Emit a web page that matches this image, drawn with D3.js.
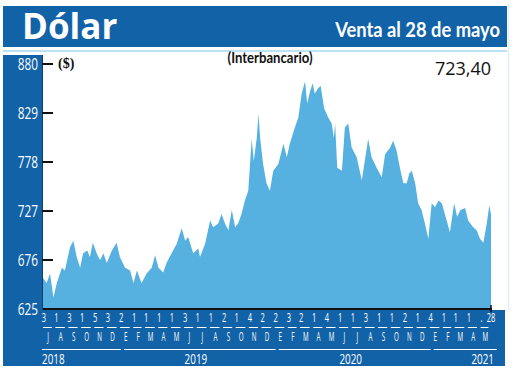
<!DOCTYPE html>
<html>
<head>
<meta charset="utf-8">
<script src="https://cdn.jsdelivr.net/npm/d3@7"></script>
<style>
  body { margin: 0; background: #fff; }
  svg { display: block; }
</style>
</head>
<body>
<div id="chart"></div>
<script>
// Datos dolar interbancario (venta)
var fechas = [
  "2018-07-03","2018-07-06","2018-07-14","2018-07-22","2018-07-30","2018-08-07","2018-08-19","2018-08-26",
  "2018-09-07","2018-09-15","2018-09-23","2018-10-01","2018-10-08","2018-10-18","2018-10-24","2018-10-31",
  "2018-11-09","2018-11-17","2018-11-25","2018-12-03","2018-12-15","2018-12-26","2019-01-03","2019-01-15",
  "2019-01-27","2019-02-04","2019-02-12","2019-02-23","2019-03-07","2019-03-19","2019-03-27","2019-04-04",
  "2019-04-15","2019-04-23","2019-05-05","2019-05-17","2019-05-29","2019-06-06","2019-06-13","2019-06-25",
  "2019-07-07","2019-07-11","2019-07-23","2019-08-04","2019-08-11","2019-08-23","2019-08-31","2019-09-08",
  "2019-09-16","2019-09-24","2019-10-02","2019-10-09","2019-10-17","2019-10-25","2019-11-02","2019-11-10",
  "2019-11-15","2019-11-22","2019-11-26","2019-11-30","2019-12-07","2019-12-15","2019-12-23","2019-12-31",
  "2020-01-12","2020-01-24","2020-02-01","2020-02-08","2020-02-20","2020-02-28","2020-03-07","2020-03-15",
  "2020-03-20","2020-03-27","2020-04-02","2020-04-07","2020-04-15","2020-04-21","2020-04-29","2020-05-09",
  "2020-05-17","2020-05-22","2020-05-25","2020-05-30","2020-06-10","2020-06-17","2020-06-25","2020-07-03",
  "2020-07-15","2020-07-27","2020-08-03","2020-08-11","2020-08-19","2020-08-31","2020-09-12","2020-09-20",
  "2020-10-02","2020-10-09","2020-10-17","2020-10-25","2020-11-02","2020-11-10","2020-11-16","2020-11-22",
  "2020-11-30","2020-12-07","2020-12-15","2020-12-23","2020-12-31","2021-01-08","2021-01-16","2021-01-24",
  "2021-02-01","2021-02-08","2021-02-20","2021-03-02","2021-03-09","2021-03-17","2021-03-28","2021-04-04",
  "2021-04-16","2021-04-24","2021-05-02","2021-05-10","2021-05-18","2021-05-24","2021-05-28"
];
var valores = [
  655,657,652,662,637,652,668,665,
  689,696,679,668,683,686,679,694,
  683,676,683,673,686,694,679,668,
  665,652,665,652,662,668,681,668,
  663,673,683,693,709,696,700,683,
  688,679,693,717,710,714,724,714,
  707,728,710,714,724,738,748,802,
  779,803,828,803,776,756,748,769,
  776,797,783,797,814,824,849,862,
  839,852,860,849,855,857,834,824,
  818,803,818,772,769,814,818,793,
  783,759,779,802,783,772,762,786,
  793,800,790,772,756,756,766,769,
  756,735,728,714,698,735,731,738,
  735,724,705,735,721,728,730,717,
  710,707,698,694,714,733,723.4
];

var ticksY = [625, 676, 727, 778, 829, 880];
// dia del primer dato de cada mes (jul 2018 - may 2021)
var diasMes = ["3","1","3","1","5","3",
               "2","1","1","1","1","3","1","1","2","1","4","2",
               "2","3","2","1","4","1","1","3","1","1","2","1",
               "4","1","1","1","."];
var letrasMes = ["J","A","S","O","N","D",
                 "E","F","M","A","M","J","J","A","S","O","N","D",
                 "E","F","M","A","M","J","J","A","S","O","N","D",
                 "E","F","M","A","M"];
var anios = ["2018","2019","2020","2021"];
var diaFinal = "28";
var ultimoValor = "723,40";

var parse = d3.timeParse("%Y-%m-%d");
var data = fechas.map((f, i) => ({fecha: parse(f), valor: valores[i]}));

var width = 520, height = 371;
var azul = "#1262a8";
var celeste = "#56b1e1";
var letra = "'Open Sans', 'DejaVu Sans', sans-serif";

var svg = d3.select("#chart")
            .append("svg")
            .attr("width", width)
            .attr("height", height);

// texto comprimido horizontalmente (simula tipografia condensada)
function texto(g, x, y, str, size, anchor, sx, color, weight, family) {
    return g.append("text")
            .attr("transform", `translate(${x},${y}) scale(${sx},1)`)
            .attr("text-anchor", anchor)
            .attr("font-family", family || letra)
            .attr("font-size", size)
            .attr("font-weight", weight || 400)
            .attr("fill", color)
            .text(str);
}

// texto escalado para ocupar un ancho dado
function textoAncho(g, x, y, str, size, anchor, ancho, color, weight, family) {
    var t = texto(g, x, y, str, size, anchor, 1, color, weight, family);
    var sx = ancho / t.node().getComputedTextLength();
    t.attr("transform", `translate(${x},${y}) scale(${sx},1)`);
    return t;
}

//Escalas
var x = d3.scaleTime()
          .domain(d3.extent(data, d => d.fecha))
          .range([42, 491]);
var y = d3.scaleLinear()
          .domain([625, 880])
          .range([309, 64]);

//Marco celeste
svg.append("line")
   .attr("x1", 3).attr("x2", 507)
   .attr("y1", 51).attr("y2", 51)
   .attr("stroke", "#a8d8f2").attr("stroke-width", 1.5);
svg.append("line")
   .attr("x1", 508.5).attr("x2", 508.5)
   .attr("y1", 4).attr("y2", 310)
   .attr("stroke", "#e4eef4").attr("stroke-width", 1.5);

//Cabecera
svg.append("rect")
   .attr("x", 3).attr("y", 6)
   .attr("width", 504).attr("height", 41)
   .attr("fill", azul);
svg.append("text")
   .attr("x", 22).attr("y", 39)
   .attr("font-family", letra)
   .attr("font-weight", 700)
   .attr("font-size", 35)
   .attr("fill", "#fff")
   .text("Dólar");
textoAncho(svg, 500, 37, "Venta al 28 de mayo", 21, "end", 165, "#fff", 700, "Lato, sans-serif");

//Columna izquierda y banda inferior
svg.append("rect")
   .attr("x", 3).attr("y", 55)
   .attr("width", 39).attr("height", 311)
   .attr("fill", azul);
svg.append("rect")
   .attr("x", 3).attr("y", 310)
   .attr("width", 502).attr("height", 56)
   .attr("fill", azul);

//Area
var area = d3.area()
             .x(d => x(d.fecha))
             .y0(y(625))
             .y1(d => y(d.valor));
svg.append("path")
   .datum(data)
   .attr("d", area)
   .attr("fill", celeste);

//Ejes
svg.append("line")
   .attr("x1", 42).attr("x2", 492)
   .attr("y1", 309).attr("y2", 309)
   .attr("stroke", "#111").attr("stroke-width", 2);
svg.append("line")
   .attr("x1", 491).attr("x2", 491)
   .attr("y1", 305).attr("y2", 312)
   .attr("stroke", "#111").attr("stroke-width", 1.5);
svg.append("line")
   .attr("x1", 42.5).attr("x2", 42.5)
   .attr("y1", 55).attr("y2", 310)
   .attr("stroke", "#0b3f6e").attr("stroke-width", 1);

var gy = svg.append("g");
gy.selectAll("line")
  .data(ticksY.filter(d => d > 625))
  .enter()
  .append("line")
  .attr("x1", 42).attr("x2", 53)
  .attr("y1", d => y(d)).attr("y2", d => y(d))
  .attr("stroke", "#111").attr("stroke-width", 2);
ticksY.forEach(d => texto(gy, 38, y(d) + 5.5, d, 16, "end", 0.74, "#fff"));

//Eje X: dias, meses y anios
var inicio = x.domain()[0], fin = x.domain()[1];
var meses = d3.timeMonth.range(d3.timeMonth.floor(inicio), fin);
var gx = svg.append("g");
meses.forEach((m, i) => {
    var x0 = Math.max(x(m), 42);
    var x1 = Math.min(x(d3.timeMonth.offset(m, 1)), 491);
    texto(gx, x0 + 2, 322, diasMes[i], 12.5, "middle", 0.6, "#fff");
    gx.append("line")
      .attr("x1", x0 + 1).attr("x2", x1 - 2.5)
      .attr("y1", 327.5).attr("y2", 327.5)
      .attr("stroke", "#fff").attr("stroke-width", 1);
    texto(gx, (x0 + x1) / 2, 341, letrasMes[i], 12.5, "middle", 0.5, "#fff");
});
texto(gx, x(fin), 322, diaFinal, 12.5, "middle", 0.6, "#fff");

anios.forEach((a, i) => {
    var ini = new Date(+a, 0, 1), sig = new Date(+a + 1, 0, 1);
    var x0 = i == 0 ? 42 : x(ini) + 5;
    var x1 = i == anios.length - 1 ? 497 : x(sig) + 2;
    gx.append("line")
      .attr("x1", x0).attr("x2", x1)
      .attr("y1", 349.5).attr("y2", 349.5)
      .attr("stroke", "#fff").attr("stroke-width", 1);
    var anchor = i == 0 ? "start" : (i == anios.length - 1 ? "end" : "middle");
    var xt = i == 0 ? x0 : (i == anios.length - 1 ? x1 - 3 : (x0 + x1) / 2 - 4);
    texto(gx, xt, 364, a, 15, anchor, 0.66, "#fff");
});

//Textos del grafico
svg.append("text")
   .attr("x", 58).attr("y", 68)
   .attr("font-family", "'Liberation Serif', serif")
   .attr("font-weight", 700)
   .attr("font-size", 14)
   .attr("fill", "#111")
   .text("($)");
textoAncho(svg, 270, 63, "(Interbancario)", 14.5, "middle", 85, "#111", 700, "Lato, sans-serif");
svg.append("text")
   .attr("x", 491).attr("y", 75)
   .attr("text-anchor", "end")
   .attr("font-family", letra)
   .attr("font-size", 18)
   .attr("fill", "#111")
   .text(ultimoValor);
</script>
</body>
</html>
